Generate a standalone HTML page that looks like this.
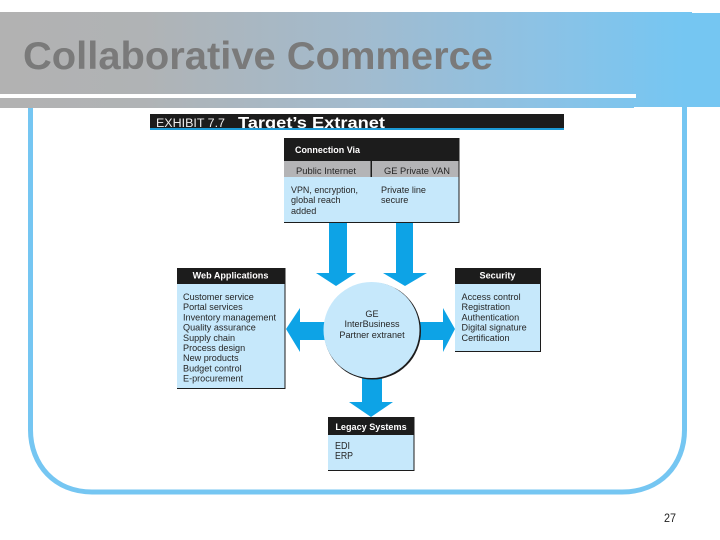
<!DOCTYPE html>
<html><head><meta charset="utf-8"><style>
html,body{margin:0;padding:0;background:#fff}
svg{display:block}
text{font-family:"Liberation Sans",sans-serif}
.b{fill:#1f1c1d}.l{fill:#c6e8fb}.a{fill:#0ca3e6}
.h{fill:#fff;font-weight:bold;font-size:9.1px}
.t{fill:#262626;font-size:9.1px}
</style></head><body>
<svg width="720" height="540" viewBox="0 0 720 540" xmlns="http://www.w3.org/2000/svg">
<defs>
<linearGradient id="g" x1="0" x2="1" y1="0" y2="0"><stop offset="0" stop-color="#b2b2b2"/><stop offset="0.2" stop-color="#b0b3b5"/><stop offset="0.5" stop-color="#a2bbce"/><stop offset="0.75" stop-color="#8cc2e5"/><stop offset="0.95" stop-color="#75c6f2"/><stop offset="1" stop-color="#75c6f2"/></linearGradient>
<filter id="s" x="-5%" y="-5%" width="110%" height="110%"><feGaussianBlur stdDeviation="0.35"/></filter>
</defs>
<rect width="720" height="540" fill="#fff"/>
<path d="M30.500 100V430C30.500 465 55 492 92 492H622C660 492 684.500 465 684.500 430V100" fill="none" stroke="#75c6f2" stroke-width="5"/>
<path d="M0 12H692V13H720V107H634V108H0Z" fill="url(#g)"/>
<rect x="0" y="94" width="636" height="4" fill="#fff"/>
<text x="23" y="69" font-size="39" font-weight="bold" fill="#7a7a7a" textLength="470" lengthAdjust="spacingAndGlyphs" filter="url(#s)">Collaborative Commerce</text>
<g filter="url(#s)">
<rect x="150" y="114" width="414" height="16" class="b"/>
<text x="156" y="127" font-size="11.500" fill="#eee" textLength="69" lengthAdjust="spacingAndGlyphs">EXHIBIT 7.7</text>
<text x="238" y="128" font-size="16" font-weight="bold" fill="#fff" textLength="147" lengthAdjust="spacingAndGlyphs">Target’s Extranet</text>
<rect x="150" y="128" width="414" height="2" fill="#1a9bd7"/>

<rect x="284" y="138" width="175" height="85" class="l"/>
<rect x="284" y="138" width="175" height="23" class="b"/>
<rect x="284" y="161" width="175" height="16" fill="#b4b4b6"/>
<rect x="370.500" y="161" width="1.500" height="16" class="b"/>
<path d="M284 222.500H459V138" fill="none" stroke="#1f1c1d" stroke-width="1"/>
<text x="295" y="153" class="h" textLength="65" lengthAdjust="spacingAndGlyphs">Connection Via</text>
<text x="296" y="174" class="t" textLength="60" lengthAdjust="spacingAndGlyphs">Public Internet</text>
<text x="384" y="174" class="t" textLength="66" lengthAdjust="spacingAndGlyphs">GE Private VAN</text>
<text x="291" y="193" class="t" textLength="67" lengthAdjust="spacingAndGlyphs">VPN, encryption,</text>
<text x="291" y="203" class="t">global reach</text>
<text x="291" y="214" class="t">added</text>
<text x="381" y="193" class="t">Private line</text>
<text x="381" y="203" class="t">secure</text>

<path class="a" d="M329 223H347V273H356L336 286L316 273H329Z"/>
<path class="a" d="M396 223H413V273H427L405 286L383 273H396Z"/>
<path class="a" d="M325 322V340H300V352L286 329L300 308V322Z"/>
<path class="a" d="M420 322H443V308L455 329L443 352V340H420Z"/>
<path class="a" d="M362 378H382V402H393L371 417L349 402H362Z"/>

<circle cx="372.500" cy="331" r="48.500" class="b"/>
<circle cx="371.500" cy="330" r="48" class="l"/>
<text x="372" y="317" class="t" text-anchor="middle">GE</text>
<text x="372" y="327" class="t" text-anchor="middle">InterBusiness</text>
<text x="372" y="338" class="t" text-anchor="middle">Partner extranet</text>

<rect x="177" y="268" width="108" height="120.500" class="l"/>
<rect x="177" y="268" width="108" height="16" class="b"/>
<path d="M177 388.500H285V268" fill="none" stroke="#1f1c1d" stroke-width="1"/>
<text x="230.500" y="278.500" class="h" text-anchor="middle">Web Applications</text>
<text x="183" y="300" class="t">Customer service</text>
<text x="183" y="310" class="t">Portal services</text>
<text x="183" y="320.500" class="t">Inventory management</text>
<text x="183" y="330.500" class="t">Quality assurance</text>
<text x="183" y="341" class="t">Supply chain</text>
<text x="183" y="351" class="t">Process design</text>
<text x="183" y="361" class="t">New products</text>
<text x="183" y="371.500" class="t">Budget control</text>
<text x="183" y="381.500" class="t">E-procurement</text>

<rect x="455" y="268" width="86" height="84" class="l"/>
<rect x="455" y="268" width="86" height="16" class="b"/>
<path d="M455 351.500H540.500V268" fill="none" stroke="#1f1c1d" stroke-width="1"/>
<text x="497.500" y="278.500" class="h" text-anchor="middle">Security</text>
<text x="461.500" y="300" class="t">Access control</text>
<text x="461.500" y="310" class="t">Registration</text>
<text x="461.500" y="320.500" class="t">Authentication</text>
<text x="461.500" y="330.500" class="t">Digital signature</text>
<text x="461.500" y="341" class="t">Certification</text>

<rect x="328" y="417" width="86" height="53.500" class="l"/>
<rect x="328" y="417" width="86" height="18" class="b"/>
<path d="M328 470.500H414V417" fill="none" stroke="#1f1c1d" stroke-width="1"/>
<text x="371" y="430" class="h" text-anchor="middle">Legacy Systems</text>
<text x="335" y="449" class="t" style="font-size:10.500px" textLength="15" lengthAdjust="spacingAndGlyphs">EDI</text>
<text x="335" y="459" class="t" style="font-size:10.500px" textLength="18" lengthAdjust="spacingAndGlyphs">ERP</text>
</g>
<text x="664" y="522" font-size="12" fill="#222" textLength="12" lengthAdjust="spacingAndGlyphs">27</text>
</svg>
</body></html>
